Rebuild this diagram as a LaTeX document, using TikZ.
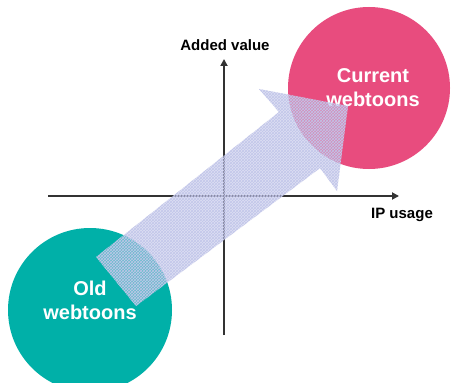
\documentclass[tikz,border=0pt]{standalone}
\usepackage{fontspec}
\setmainfont{Liberation Sans}
\usetikzlibrary{arrows.meta,patterns}
\definecolor{teal1}{HTML}{00B0A8}
\definecolor{pink1}{HTML}{E84C7E}
\definecolor{lav}{HTML}{C2C6EA}
\definecolor{axis}{HTML}{333333}
\tikzset{
  axisline/.style={line width=2.6pt, draw=axis, -{Triangle[length=7pt,width=7pt]}},
  axlabel/.style={font=\fontsize{15}{18}\selectfont\bfseries, text=black, inner sep=0pt},
  blob/.style={circle, inner sep=0pt},
  blobtext/.style={font=\fontsize{20}{24}\selectfont\bfseries, text=white, align=center, inner sep=0pt},
  bigarrow/.style={fill=lav, fill opacity=0.55, draw=none},
  arrowgrid/.style={pattern=crosshatch, pattern color=lav, fill opacity=0.9, draw=none}
}
\begin{document}
\begin{tikzpicture}[x=1pt,y=-1pt]
\useasboundingbox[fill=white] (0,0) rectangle (454,382);
% circles
\node[blob, fill=teal1, minimum size=164pt] (old) at (90,310) {};
\node[blob, fill=pink1, minimum size=162pt] (cur) at (369,88) {};
\node[blobtext] (oldt) at (90,300) {Old\\webtoons};
\node[blobtext] (curt) at (373,88) {Current\\webtoons};
% axes
\coordinate (xs) at (48,196);
\coordinate (xe) at (399,196);
\coordinate (ys) at (224,335);
\coordinate (ye) at (224,59);
\draw[axisline] (xs) -- (xe);
\draw[axisline] (ys) -- (ye);
\node[axlabel] (ylab) at (225,45) {Added value};
\node[axlabel] (xlab) at (402,215) {IP usage};
% big arrow
\coordinate (t1) at (96,257);
\coordinate (t2) at (136,306);
\coordinate (jr) at (320,168);
\coordinate (br) at (337,191);
\coordinate (tip) at (348,106);
\coordinate (bl) at (259,89);
\coordinate (jl) at (279,112);
\fill[bigarrow] (t1) -- (jl) -- (bl) -- (tip) -- (br) -- (jr) -- (t2) -- cycle;
\fill[arrowgrid] (t1) -- (jl) -- (bl) -- (tip) -- (br) -- (jr) -- (t2) -- cycle;
\end{tikzpicture}
\end{document}
